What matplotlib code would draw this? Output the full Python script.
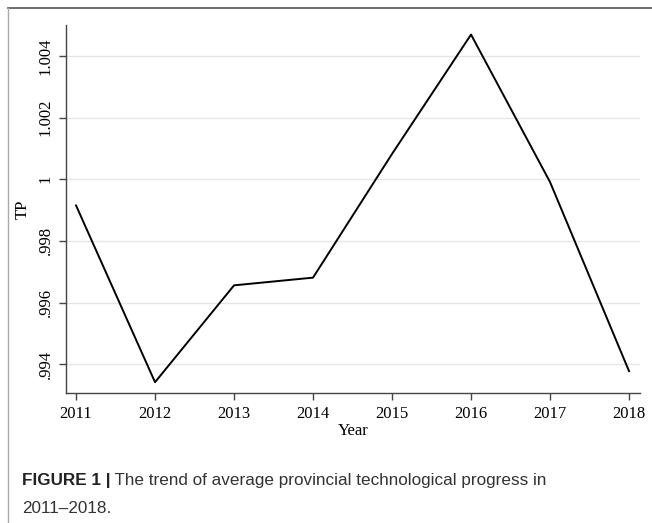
import numpy as np
import matplotlib.pyplot as plt
from matplotlib.lines import Line2D

# datos
years = [2011, 2012, 2013, 2014, 2015, 2016, 2017, 2018]
tp = [0.99915, 0.99342, 0.99656, 0.99681, 1.00082, 1.00469, 0.99991, 0.99378]
yticks = [0.994, 0.996, 0.998, 1.000, 1.002, 1.004]
ylabels = ['.994', '.996', '.998', '1', '1.002', '1.004']

W, H = 652, 523
fig = plt.figure(figsize=(W / 100, H / 100), dpi=100)

# marco de la figura (arriba e izquierda)
fig.add_artist(Line2D([8 / W, 1], [1 - 8 / H, 1 - 8 / H], color='#555555', lw=1.2))
fig.add_artist(Line2D([8 / W, 8 / W], [0, 1 - 8 / H], color='#aaaaaa', lw=1.0))

ax = fig.add_axes([66 / W, 1 - 393 / H, (640 - 66) / W, (393 - 25) / H])
ax.plot(years, tp, color='black', lw=1.4)

ax.set_xlim(2010.873, 2018.139)
ax.set_ylim(0.99307, 1.005)
ax.set_xticks(years)
ax.set_xticklabels([str(y) for y in years], family='Liberation Serif', fontsize=12)
ax.set_yticks(yticks)
ax.set_yticklabels(ylabels, family='Liberation Serif', fontsize=12, rotation=90, va='center')
ax.grid(axis='y', color='#e6e6e6', lw=1.0)
ax.set_axisbelow(True)

for s in ['top', 'right']:
    ax.spines[s].set_visible(False)
for s in ['left', 'bottom']:
    ax.spines[s].set_color('#444444')
    ax.spines[s].set_linewidth(1.0)
ax.tick_params(direction='out', length=5, width=1, color='#444444', pad=4)

ax.set_xlabel('Year', family='Liberation Serif', fontsize=12, labelpad=1)
ax.set_ylabel('TP', family='Liberation Serif', fontsize=12, labelpad=5)

# pie de figura
t1 = fig.text(22 / W, 1 - 485 / H, 'FIGURE 1 |', family='Liberation Sans',
              fontsize=12.3, fontweight='bold', va='baseline', color='#222222')
fig.canvas.draw()
ax.annotate(' The trend of average provincial technological progress in',
            xy=(1, 0), xycoords=t1, va='bottom', ha='left',
            family='Liberation Sans', fontsize=12.3, color='#333333')
fig.text(22 / W, 1 - 513 / H, '2011\u20132018.', family='Liberation Sans',
         fontsize=12.3, va='baseline', color='#333333')

fig.savefig('out.png', dpi=100)
